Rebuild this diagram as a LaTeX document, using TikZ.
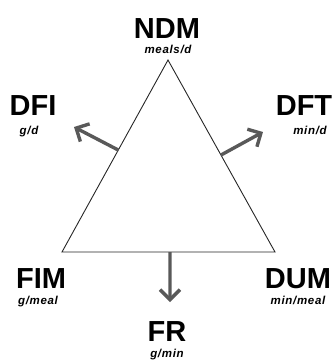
\documentclass[tikz,border=0pt]{standalone}
\usepackage{fontspec}
\setmainfont{Liberation Sans}
\newfontfamily\unitfont[LetterSpace=6]{Liberation Sans}
\usetikzlibrary{arrows.meta,calc}
\tikzset{
  big/.style={font=\fontsize{29}{30}\selectfont\bfseries, inner sep=0pt, anchor=base},
  unit/.style={font=\unitfont\fontsize{11.5}{12}\selectfont\bfseries\itshape, inner sep=0pt, anchor=base},
  tri/.style={line width=0.9pt, draw=black!85},
  flow/.style={line width=3.4pt, draw=black!65, -{Straight Barb[length=10pt,width=20pt,line width=3.4pt]}}
}
\begin{document}
\begin{tikzpicture}[x=1pt,y=-1pt]
\useasboundingbox (0,0) rectangle (335,360);
\coordinate (A) at (168,60);
\coordinate (B) at (62,252);
\coordinate (C) at (275,252);
\draw[tri] (A) -- (B) -- (C) -- cycle;
\coordinate (sDFI) at ($(A)!0.469!(B)$);
\coordinate (tDFI) at (74,127);
\coordinate (sDFT) at ($(A)!0.495!(C)$);
\coordinate (tDFT) at (263,132);
\coordinate (sFR) at ($(B)!0.507!(C)$);
\coordinate (tFR) at (170,302);
\draw[flow] (sDFI) -- (tDFI);
\draw[flow] (sDFT) -- (tDFT);
\draw[flow] (sFR) -- (tFR);
\node[big] (ndm) at (167,38) {NDM};
\node[unit] (ndmu) at (168,53) {meals/d};
\node[big] (dfi) at (33,115) {DFI};
\node[unit] (dfiu) at (29,134) {g/d};
\node[big] (dft) at (304,115) {DFT};
\node[unit] (dftu) at (310,134) {min/d};
\node[big] (fim) at (41,288) {FIM};
\node[unit] (fimu) at (38,304) {g/meal};
\node[big] (dum) at (298,288) {DUM};
\node[unit] (dumu) at (298,304) {min/meal};
\node[big] (fr) at (167,341) {FR};
\node[unit] (fru) at (167,357) {g/min};
\end{tikzpicture}
\end{document}
